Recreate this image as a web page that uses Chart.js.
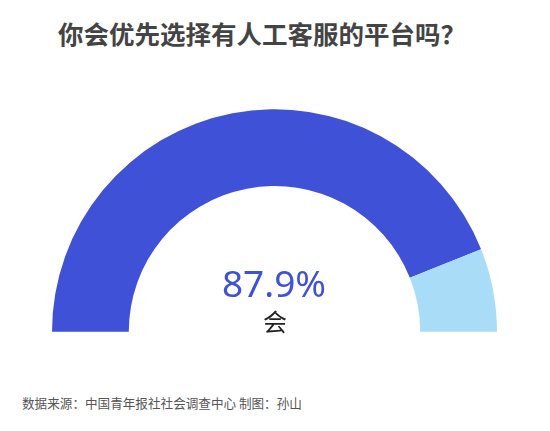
<!DOCTYPE html>
<html>
<head>
<meta charset="utf-8">
<script src="https://cdn.jsdelivr.net/npm/chart.js@4/dist/chart.umd.min.js"></script>
<style>
    body { margin: 0; background: #fff; }
    #wrap { position: relative; width: 550px; height: 431px; overflow: hidden; font-family: "Noto Sans CJK SC", "Noto Sans", sans-serif; }
    #title { position: absolute; left: 0; width: 524px; top: 14px; text-align: center; font-size: 25.5px; font-weight: bold; color: #444; }
    #box { position: absolute; left: 52px; top: 109px; width: 445px; height: 223px; }
    #pct { position: absolute; left: 174px; width: 200px; top: 257px; text-align: center; font-family: "Noto Sans", sans-serif; font-size: 37px; color: #3f51d6; }
    #lbl { position: absolute; left: 175px; width: 200px; top: 303px; text-align: center; font-size: 24px; color: #222; }
    #foot { position: absolute; left: 22px; top: 393px; font-size: 12.6px; color: #555; }
</style>
</head>
<body>
<div id="wrap">
    <div id="title">你会优先选择有人工客服的平台吗？</div>
    <div id="box"><canvas id="gauge"></canvas></div>
    <div id="pct"></div>
    <div id="lbl"></div>
    <div id="foot">数据来源：中国青年报社社会调查中心 制图：孙山</div>
</div>
<script>
// 数据
const labels = ['会', '不会'];
const values = [87.9, 12.1];
const colors = ['#3f51d6', '#a9ddf7'];

document.getElementById('pct').textContent = values[0] + '%';
document.getElementById('lbl').textContent = labels[0];

// 半圆图
new Chart(document.getElementById('gauge'), {
    type: 'doughnut',
    data: {
        labels: labels,
        datasets: [{
            data: values,
            backgroundColor: colors,
            borderWidth: 0
        }]
    },
    options: {
        responsive: true,
        maintainAspectRatio: false,
        animation: false,
        rotation: -90,
        circumference: 180,
        cutout: '65.5%',
        layout: { padding: 0 },
        plugins: {
            legend: { display: false },
            tooltip: { enabled: false }
        }
    }
});
</script>
</body>
</html>
